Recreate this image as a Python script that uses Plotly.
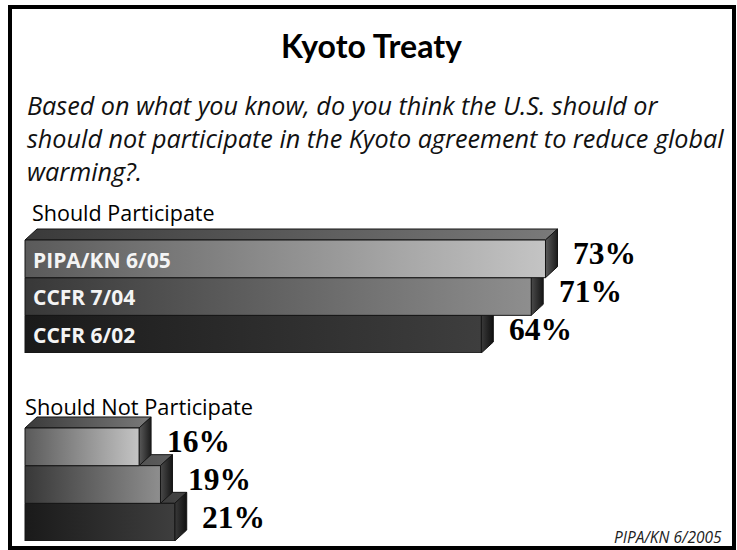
import plotly.graph_objects as go

# ---- data -------------------------------------------------------------
surveys = ["PIPA/KN 6/05", "CCFR 7/04", "CCFR 6/02"]
participate = [73, 71, 64]          # Should Participate (%)
not_participate = [16, 19, 21]      # Should Not Participate (%)

section_titles = ["Should Participate", "Should Not Participate"]
chart_title = "Kyoto Treaty"
question_lines = [
    "Based on what you know, do you think the U.S. should or",
    "should not participate in the Kyoto agreement to reduce global",
    "warming?.",
]
source_note = "PIPA/KN 6/2005"

# ---- geometry / style -------------------------------------------------
W, H = 737, 550
ZERO_PX = 25.0            # where 0% sits horizontally
PX_PER_PCT = 7.13
ROW_PX = 37.67            # height of one bar
DEPTH_X = 12 / PX_PER_PCT # 3-D offset of the bar bodies
DEPTH_Y = 11 / ROW_PX

# per-row face shading (front, top, side), lightest row first
front_shades = [("#5a5a5a", "#c4c4c4"), ("#383838", "#8e8e8e"), ("#1a1a1a", "#3e3e3e")]
top_shades = [("#3a3a3a", "#7a7a7a"), ("#2e2e2e", "#5e5e5e"), ("#222222", "#444444")]
side_shades = [("#5a5a5a", "#1c1c1c"), ("#4a4a4a", "#161616"), ("#3a3a3a", "#101010")]
EDGE = "#151515"

SANS = "Open Sans"

fig = go.Figure()


def face(xs, ys, shade, yaxis):
    fig.add_trace(go.Scatter(
        x=xs, y=ys, yaxis=yaxis, mode="lines", fill="toself",
        line=dict(color=EDGE, width=1),
        fillgradient=dict(type="horizontal",
                          colorscale=[[0, shade[0]], [1, shade[1]]]),
        hoverinfo="skip", showlegend=False,
    ))


def bar3d(row, value, yaxis):
    top, bot = row - 0.5, row + 0.5
    dx, dy = DEPTH_X, DEPTH_Y
    # top face
    face([0, value, value + dx, dx, 0],
         [top, top, top - dy, top - dy, top], top_shades[row], yaxis)
    # right-hand face
    face([value, value + dx, value + dx, value, value],
         [top, top - dy, bot - dy, bot, top], side_shades[row], yaxis)
    # front face
    face([0, value, value, 0, 0],
         [top, top, bot, bot, top], front_shades[row], yaxis)


# draw back-to-front so upper bars cover the tops of the ones below
for axis, values in (("y", participate), ("y2", not_participate)):
    for row in reversed(range(len(values))):
        bar3d(row, values[row], axis)

annotations = []

# value labels to the right of each bar
for axref, values in (("y", participate), ("y2", not_participate)):
    for row, v in enumerate(values):
        annotations.append(dict(
            x=v + DEPTH_X + 1.9, y=row - 0.13, xref="x", yref=axref,
            text=f"<b>{v}%</b>", showarrow=False, xanchor="left", yanchor="middle",
            font=dict(family="Liberation Serif", size=31.5, color="#000000"),
        ))

# survey names inside the "Should Participate" bars
for row, name in enumerate(surveys):
    annotations.append(dict(
        x=0.85, y=row + 0.02, xref="x", yref="y", text=f"<b>{name}</b>",
        showarrow=False, xanchor="left", yanchor="middle",
        font=dict(family=SANS, size=21, color="#f4f4f4"),
    ))


def px_x(px):
    return px / W


def px_y(px):
    return 1 - px / H


annotations += [
    dict(x=px_x(371), y=px_y(46), xref="paper", yref="paper",
         text=f"<b>{chart_title}</b>", showarrow=False,
         xanchor="center", yanchor="middle",
         font=dict(family="Lato", size=32, color="#000000")),
    dict(x=px_x(25), y=px_y(137.5), xref="paper", yref="paper",
         text="<i>" + "<br>".join(question_lines) + "</i>", showarrow=False,
         xanchor="left", yanchor="middle", align="left",
         font=dict(family=SANS, size=25.2, color="#111111")),
    dict(x=px_x(30), y=px_y(213), xref="paper", yref="paper",
         text=section_titles[0], showarrow=False, xanchor="left", yanchor="middle",
         font=dict(family=SANS, size=21.5, color="#000000")),
    dict(x=px_x(23), y=px_y(406), xref="paper", yref="paper",
         text=section_titles[1], showarrow=False, xanchor="left", yanchor="middle",
         font=dict(family=SANS, size=21.8, color="#000000")),
    dict(x=px_x(724), y=px_y(537), xref="paper", yref="paper",
         text=f"<i>{source_note}</i>", showarrow=False, xanchor="right", yanchor="middle",
         font=dict(family=SANS, size=15.5, color="#222222")),
]

# ---- axes: 0% at ZERO_PX, one unit per bar row -----------------------
x_range = [-ZERO_PX / PX_PER_PCT, (W - ZERO_PX) / PX_PER_PCT]


def row_domain(first_bar_top_px):
    # range goes from 2.5 (bottom) up to -1.0 (above first bar's top face)
    top_px = first_bar_top_px - 0.5 * ROW_PX
    bot_px = first_bar_top_px + 3 * ROW_PX
    return [1 - bot_px / H, 1 - top_px / H]


axis_common = dict(visible=False, fixedrange=True, range=[2.5, -1.0])

fig.update_layout(
    width=W, height=H,
    margin=dict(l=0, r=0, t=0, b=0),
    paper_bgcolor="#ffffff", plot_bgcolor="rgba(0,0,0,0)",
    font=dict(family="Lato", color="#000000"),
    xaxis=dict(visible=False, fixedrange=True, range=x_range, domain=[0, 1]),
    yaxis=dict(domain=row_domain(240), **axis_common),
    yaxis2=dict(domain=row_domain(428), anchor="x", **axis_common),
    annotations=annotations,
    shapes=[dict(type="rect", xref="paper", yref="paper",
                 x0=px_x(10), x1=px_x(734), y0=px_y(548), y1=px_y(7),
                 line=dict(color="#000000", width=4))],
    showlegend=False,
)

fig.write_html("out.html")
